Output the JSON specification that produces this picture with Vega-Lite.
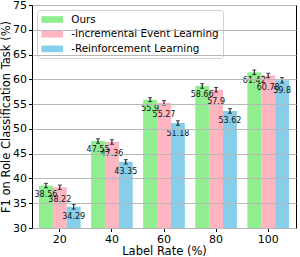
{
  "$schema": "https://vega.github.io/schema/vega-lite/v6.json",
  "width": 264,
  "height": 223,
  "autosize": {"type": "none"},
  "padding": {"left": 32, "top": 5, "right": 4, "bottom": 29},
  "data": {
    "values": [
      {"rate": "20", "model": "Ours", "f1": 38.56, "lo": 38.12, "hi": 39.0},
      {"rate": "20", "model": "-Incremental Event Learning", "f1": 38.22, "lo": 37.78, "hi": 38.66},
      {"rate": "20", "model": "-Reinforcement Learning", "f1": 34.29, "lo": 33.82, "hi": 34.76},
      {"rate": "40", "model": "Ours", "f1": 47.55, "lo": 47.1, "hi": 48.0},
      {"rate": "40", "model": "-Incremental Event Learning", "f1": 47.36, "lo": 46.9, "hi": 47.82},
      {"rate": "40", "model": "-Reinforcement Learning", "f1": 43.35, "lo": 42.9, "hi": 43.8},
      {"rate": "60", "model": "Ours", "f1": 55.9, "lo": 55.5, "hi": 56.3},
      {"rate": "60", "model": "-Incremental Event Learning", "f1": 55.27, "lo": 54.82, "hi": 55.72},
      {"rate": "60", "model": "-Reinforcement Learning", "f1": 51.18, "lo": 50.72, "hi": 51.64},
      {"rate": "80", "model": "Ours", "f1": 58.66, "lo": 58.2, "hi": 59.12},
      {"rate": "80", "model": "-Incremental Event Learning", "f1": 57.9, "lo": 57.45, "hi": 58.35},
      {"rate": "80", "model": "-Reinforcement Learning", "f1": 53.62, "lo": 53.15, "hi": 54.09},
      {"rate": "100", "model": "Ours", "f1": 61.42, "lo": 60.96, "hi": 61.88},
      {"rate": "100", "model": "-Incremental Event Learning", "f1": 60.78, "lo": 60.34, "hi": 61.22},
      {"rate": "100", "model": "-Reinforcement Learning", "f1": 59.8, "lo": 59.25, "hi": 60.35}
    ]
  },
  "encoding": {
    "x": {
      "field": "rate",
      "type": "nominal",
      "scale": {"domain": ["20", "40", "60", "80", "100"], "paddingInner": 0.2, "paddingOuter": 0.134},
      "axis": {
        "title": "Label Rate (%)",
        "labelAngle": 0,
        "domain": false,
        "tickSize": 3.5,
        "tickColor": "#000",
        "labelPadding": 2,
        "titlePadding": 1
      }
    },
    "xOffset": {
      "field": "model",
      "type": "nominal",
      "scale": {"domain": ["Ours", "-Incremental Event Learning", "-Reinforcement Learning"], "paddingInner": 0, "paddingOuter": 0}
    },
    "y": {
      "field": "f1",
      "type": "quantitative",
      "scale": {"domain": [30, 75], "nice": false, "zero": false},
      "axis": {
        "title": "F1 on Role Classification Task (%)",
        "values": [30, 35, 40, 45, 50, 55, 60, 65, 70, 75],
        "grid": true,
        "gridColor": "#b8b8b8",
        "gridWidth": 1,
        "domain": false,
        "tickSize": 3.5,
        "tickColor": "#000",
        "labelPadding": 2,
        "labelOverlap": false,
        "titlePadding": 1,
        "zindex": 1
      }
    }
  },
  "layer": [
    {
      "mark": {"type": "bar"},
      "encoding": {
        "y2": {"datum": 30},
        "color": {
          "field": "model",
          "type": "nominal",
          "scale": {
            "domain": ["Ours", "-Incremental Event Learning", "-Reinforcement Learning"],
            "range": ["#90EE90", "#FFB6C1", "#87CEEB"]
          },
          "legend": {
            "title": null,
            "orient": "none",
            "legendX": 5,
            "legendY": 5,
            "symbolType": "M-1.8,-0.56H1.8V0.56H-1.8Z",
            "symbolSize": 144,
            "symbolStrokeWidth": 0,
            "symbolOpacity": 1,
            "symbolOffset": 5.7,
            "labelOffset": 13,
            "labelFontSize": 10.4,
            "labelFont": "DejaVu Sans",
            "labelColor": "#000",
            "labelLimit": 300,
            "rowPadding": 2.7,
            "padding": 3.5,
            "strokeColor": "#d0d0d0",
            "fillColor": "rgba(255,255,255,0.8)",
            "cornerRadius": 3
          }
        }
      }
    },
    {
      "mark": {"type": "rule", "color": "#000", "strokeWidth": 1},
      "encoding": {
        "y": {
          "field": "hi",
          "type": "quantitative",
          "scale": {"domain": [30, 75], "nice": false, "zero": false},
          "axis": {
            "title": "F1 on Role Classification Task (%)",
            "values": [30, 35, 40, 45, 50, 55, 60, 65, 70, 75],
            "grid": true,
            "gridColor": "#b8b8b8",
            "gridWidth": 1,
            "domain": false,
            "tickSize": 3.5,
            "tickColor": "#000",
            "labelPadding": 2,
            "labelOverlap": false,
            "titlePadding": 1,
            "zindex": 1
          }
        },
        "y2": {"field": "lo"}
      }
    },
    {
      "mark": {"type": "tick", "color": "#000", "size": 4, "thickness": 1},
      "encoding": {
        "y": {
          "field": "hi",
          "type": "quantitative",
          "scale": {"domain": [30, 75], "nice": false, "zero": false},
          "axis": {
            "title": "F1 on Role Classification Task (%)",
            "values": [30, 35, 40, 45, 50, 55, 60, 65, 70, 75],
            "grid": true,
            "gridColor": "#b8b8b8",
            "gridWidth": 1,
            "domain": false,
            "tickSize": 3.5,
            "tickColor": "#000",
            "labelPadding": 2,
            "labelOverlap": false,
            "titlePadding": 1,
            "zindex": 1
          }
        }
      }
    },
    {
      "mark": {"type": "tick", "color": "#000", "size": 4, "thickness": 1},
      "encoding": {
        "y": {
          "field": "lo",
          "type": "quantitative",
          "scale": {"domain": [30, 75], "nice": false, "zero": false},
          "axis": {
            "title": "F1 on Role Classification Task (%)",
            "values": [30, 35, 40, 45, 50, 55, 60, 65, 70, 75],
            "grid": true,
            "gridColor": "#b8b8b8",
            "gridWidth": 1,
            "domain": false,
            "tickSize": 3.5,
            "tickColor": "#000",
            "labelPadding": 2,
            "labelOverlap": false,
            "titlePadding": 1,
            "zindex": 1
          }
        }
      }
    },
    {
      "transform": [{"filter": "datum.model === 'Ours'"}],
      "mark": {"type": "text", "fontSize": 8, "font": "DejaVu Sans", "color": "#111", "baseline": "middle", "dy": 9},
      "encoding": {"text": {"field": "f1", "type": "nominal"}}
    },
    {
      "transform": [{"filter": "datum.model === '-Incremental Event Learning'"}],
      "mark": {"type": "text", "fontSize": 8, "font": "DejaVu Sans", "color": "#111", "baseline": "middle", "dy": 12.5},
      "encoding": {"text": {"field": "f1", "type": "nominal"}}
    },
    {
      "transform": [{"filter": "datum.model === '-Reinforcement Learning'"}],
      "mark": {"type": "text", "fontSize": 8, "font": "DejaVu Sans", "color": "#111", "baseline": "middle", "dy": 10.5},
      "encoding": {"text": {"field": "f1", "type": "nominal"}}
    }
  ],
  "config": {
    "font": "DejaVu Sans",
    "view": {"stroke": "#000", "strokeWidth": 1},
    "axis": {
      "labelFont": "DejaVu Sans",
      "labelFontSize": 11,
      "labelColor": "#000",
      "titleFont": "DejaVu Sans",
      "titleFontSize": 11.5,
      "titleFontWeight": "normal",
      "titleColor": "#000"
    }
  }
}
